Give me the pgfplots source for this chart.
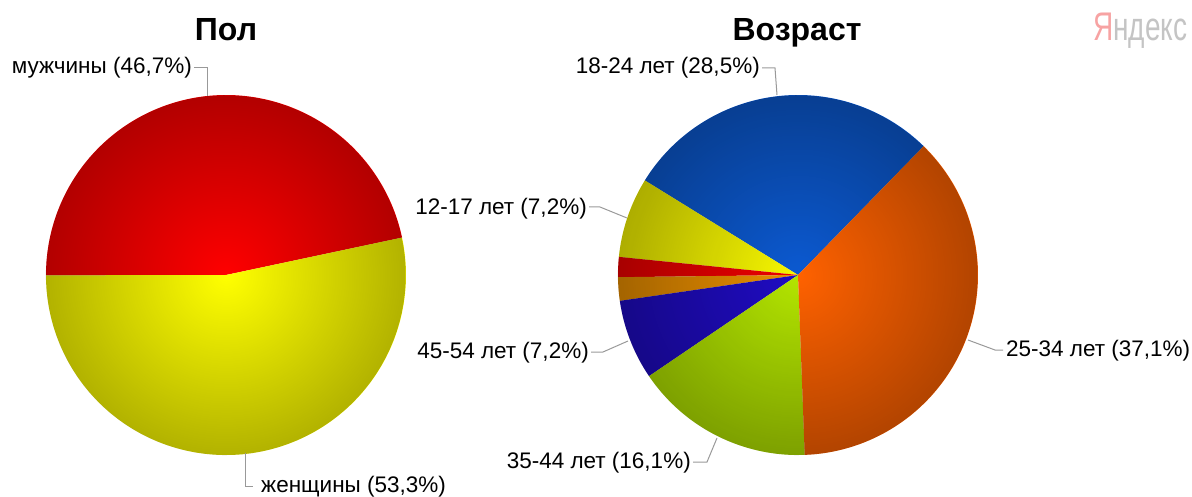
\documentclass[border=0pt]{standalone}
\usepackage{pgfplots}
\pgfplotsset{compat=1.18}
\usepackage{fontspec}
\setmainfont{Liberation Sans}
\usepackage{graphicx}
\usetikzlibrary{fadings}

\definecolor{cRed}{HTML}{FF0000}
\definecolor{cYel}{HTML}{FFFF00}
\definecolor{cBlue}{HTML}{0C5AD2}
\definecolor{cOrange}{HTML}{FF6200}
\definecolor{cGreen}{HTML}{B4E600}
\definecolor{cNavy}{HTML}{200CC4}
\definecolor{cAmber}{HTML}{EC9000}
\definecolor{cRed2}{HTML}{F00000}
\definecolor{cYel2}{HTML}{F8F800}
\definecolor{leader}{HTML}{999999}
\definecolor{yaRed}{HTML}{F7A3A3}
\definecolor{yaGrey}{HTML}{C4C4C4}

\tikzfading[name=piefade, inner color=transparent!100, outer color=transparent!0]

% ---- data (percent) ----
\def\pMen{46.7}   % мужчины
\def\pWomen{53.3} % женщины
\def\pA{28.5} % 18-24
\def\pB{7.2}  % 12-17
\def\pC{1.8}  % unlabelled
\def\pD{2.1}  % unlabelled
\def\pE{7.2}  % 45-54
\def\pF{16.1} % 35-44
\def\pG{37.1} % 25-34

% geometry (pixels; y downward negated)
\def\R{180}
\def\Lcx{226}\def\Lcy{-275}
\def\Rcx{798}\def\Rcy{-275}

\pgfmathsetmacro\la{12}
\pgfmathsetmacro\lb{\la+3.6*\pMen}
\pgfmathsetmacro\lc{\lb+3.6*\pWomen}

\pgfmathsetmacro\ra{45.7}
\pgfmathsetmacro\rb{\ra+3.6*\pA}
\pgfmathsetmacro\rc{\rb+3.6*\pB}
\pgfmathsetmacro\rd{\rc+3.6*\pC}
\pgfmathsetmacro\re{\rd+3.6*\pD}
\pgfmathsetmacro\rf{\re+3.6*\pE}
\pgfmathsetmacro\rg{\rf+3.6*\pF}
\pgfmathsetmacro\rh{\rg+3.6*\pG}

\newcommand{\lbl}{\fontsize{22.5}{26}\selectfont}

\begin{document}
\begin{tikzpicture}
\begin{axis}[
  scale only axis, width=1192pt, height=496pt,
  xmin=0, xmax=1192, ymin=-496, ymax=0,
  hide axis, clip=false,
  every axis plot/.append style={variable=\t, samples=120},
]
% ---- left pie: Пол ----
\addplot[draw=none, fill=cRed, domain=\la:\lb] ({\Lcx+\R*cos(t)},{\Lcy+\R*sin(t)}) -- (axis cs:\Lcx,\Lcy) -- cycle;
\addplot[draw=none, fill=cYel, domain=\lb:\lc] ({\Lcx+\R*cos(t)},{\Lcy+\R*sin(t)}) -- (axis cs:\Lcx,\Lcy) -- cycle;
\addplot[draw=none, fill=black, fill opacity=0.3, path fading=piefade, domain=0:360] ({\Lcx+\R*cos(t)},{\Lcy+\R*sin(t)}) -- cycle;

% ---- right pie: Возраст ----
\addplot[draw=none, fill=cBlue,   domain=\ra:\rb] ({\Rcx+\R*cos(t)},{\Rcy+\R*sin(t)}) -- (axis cs:\Rcx,\Rcy) -- cycle;
\addplot[draw=none, fill=cYel2,   domain=\rb:\rc] ({\Rcx+\R*cos(t)},{\Rcy+\R*sin(t)}) -- (axis cs:\Rcx,\Rcy) -- cycle;
\addplot[draw=none, fill=cRed2,   domain=\rc:\rd, samples=20] ({\Rcx+\R*cos(t)},{\Rcy+\R*sin(t)}) -- (axis cs:\Rcx,\Rcy) -- cycle;
\addplot[draw=none, fill=cAmber,  domain=\rd:\re, samples=20] ({\Rcx+\R*cos(t)},{\Rcy+\R*sin(t)}) -- (axis cs:\Rcx,\Rcy) -- cycle;
\addplot[draw=none, fill=cNavy,   domain=\re:\rf] ({\Rcx+\R*cos(t)},{\Rcy+\R*sin(t)}) -- (axis cs:\Rcx,\Rcy) -- cycle;
\addplot[draw=none, fill=cGreen,  domain=\rf:\rg] ({\Rcx+\R*cos(t)},{\Rcy+\R*sin(t)}) -- (axis cs:\Rcx,\Rcy) -- cycle;
\addplot[draw=none, fill=cOrange, domain=\rg:\rh] ({\Rcx+\R*cos(t)},{\Rcy+\R*sin(t)}) -- (axis cs:\Rcx,\Rcy) -- cycle;
\addplot[draw=none, fill=black, fill opacity=0.3, path fading=piefade, domain=0:360] ({\Rcx+\R*cos(t)},{\Rcy+\R*sin(t)}) -- cycle;

% ---- leader lines ----
\addplot[leader, line width=1pt, mark=none] coordinates {(194,-68) (207,-68) (207,-96)};
\addplot[leader, line width=1pt, mark=none] coordinates {(245,-453) (245,-486) (253,-486)};
\addplot[leader, line width=1pt, mark=none] coordinates {(762,-68) (775,-68) (777,-95)};
\addplot[leader, line width=1pt, mark=none] coordinates {(589,-207) (600,-207) (627,-218)};
\addplot[leader, line width=1pt, mark=none] coordinates {(591,-352) (603,-352) (628,-341)};
\addplot[leader, line width=1pt, mark=none] coordinates {(693,-462) (707,-462) (717,-438)};
\addplot[leader, line width=1pt, mark=none] coordinates {(968,-340) (995,-350) (1003,-350)};

% ---- labels ----
\node[anchor=east, inner sep=0pt, font=\lbl] at (axis cs:192,-68) {мужчины (46,7\%)};
\node[anchor=west, inner sep=0pt, font=\lbl] at (axis cs:261,-487) {женщины (53,3\%)};
\node[anchor=east, inner sep=0pt, font=\lbl] at (axis cs:760,-68) {18-24 лет (28,5\%)};
\node[anchor=east, inner sep=0pt, font=\lbl] at (axis cs:587,-209) {12-17 лет (7,2\%)};
\node[anchor=east, inner sep=0pt, font=\lbl] at (axis cs:589,-353) {45-54 лет (7,2\%)};
\node[anchor=east, inner sep=0pt, font=\lbl] at (axis cs:691,-463) {35-44 лет (16,1\%)};
\node[anchor=west, inner sep=0pt, font=\lbl] at (axis cs:1006,-351) {25-34 лет (37,1\%)};

% ---- titles ----
\node[anchor=base, inner sep=0pt, font=\fontsize{32}{36}\selectfont\bfseries] at (axis cs:226,-41) {Пол};
\node[anchor=base, inner sep=0pt, font=\fontsize{32}{36}\selectfont\bfseries] at (axis cs:797,-41) {Возраст};

% ---- watermark ----
\node[anchor=base west, inner sep=0pt] at (axis cs:1093,-41) {\scalebox{0.7}[1]{\fontsize{40}{40}\selectfont\textcolor{yaRed}{Я}\textcolor{yaGrey}{ндекс}}};
\end{axis}
\pgfresetboundingbox
\useasboundingbox (current axis.south west) rectangle (current axis.north east);
\end{tikzpicture}
\end{document}
